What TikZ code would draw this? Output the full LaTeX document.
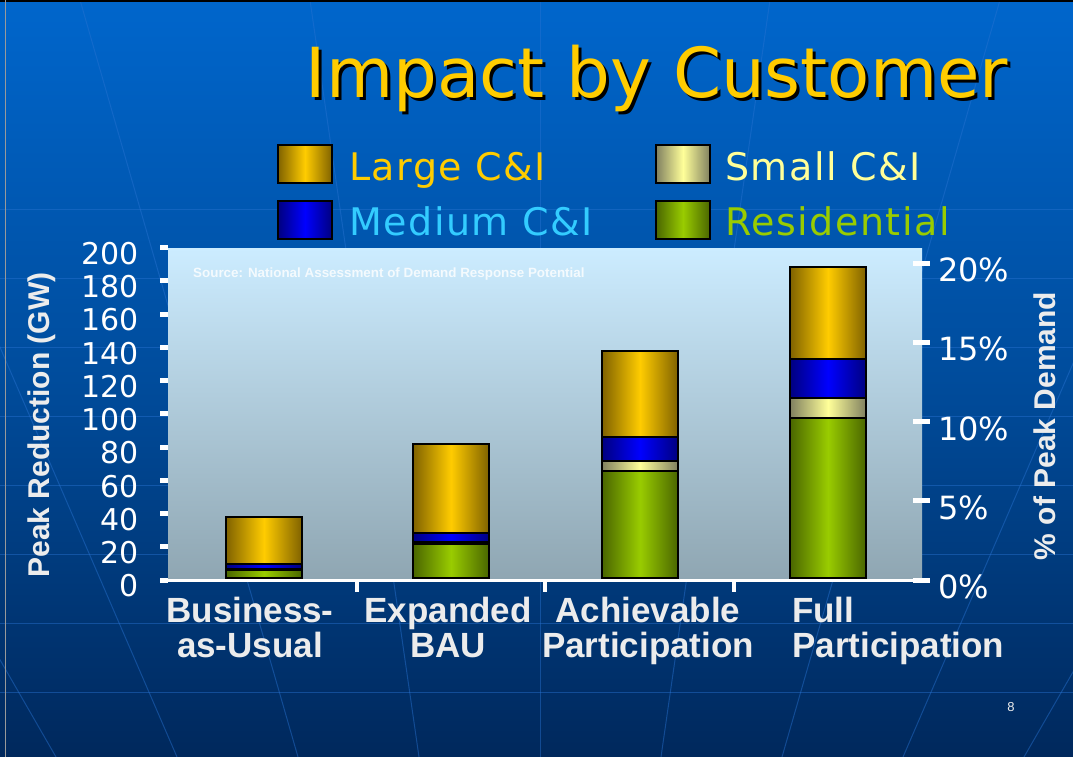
\documentclass[tikz,border=0pt]{standalone}
\usepackage{fontspec}
\setmainfont{DejaVu Sans}
\newfontfamily\arialfont{Liberation Sans}
\newfontfamily\legendfont[LetterSpace=4]{DejaVu Sans}
\usetikzlibrary{positioning}

\definecolor{slidetop}{RGB}{0,102,204}
\definecolor{slidemid}{RGB}{0,76,156}
\definecolor{slidebot}{RGB}{0,40,92}
\definecolor{plottop}{RGB}{204,236,255}
\definecolor{plotbot}{RGB}{143,166,178}
\definecolor{largeci}{RGB}{255,204,0}
\definecolor{largedark}{RGB}{128,98,0}
\definecolor{mediumci}{RGB}{0,0,255}
\definecolor{mediumdark}{RGB}{0,0,128}
\definecolor{smallci}{RGB}{255,255,153}
\definecolor{smalldark}{RGB}{128,128,96}
\definecolor{resid}{RGB}{153,204,0}
\definecolor{residdark}{RGB}{74,102,0}
\definecolor{medtext}{RGB}{51,204,255}
\definecolor{axistext}{RGB}{236,236,236}
\definecolor{gridline}{RGB}{40,115,210}

\tikzset{
    %Define styles for bar segments
    largebar/.style={
           draw=black,
           line width=1.5pt,
           left color=largedark, right color=largedark, middle color=largeci},
    mediumbar/.style={
           draw=black,
           line width=1.5pt,
           left color=mediumdark, right color=mediumdark, middle color=mediumci},
    smallbar/.style={
           draw=black,
           line width=1.5pt,
           left color=smalldark, right color=smalldark, middle color=smallci},
    residbar/.style={
           draw=black,
           line width=1.5pt,
           left color=residdark, right color=residdark, middle color=resid},
    % Define style for legend
    legbox/.style={
           rectangle,
           minimum width=54pt,
           minimum height=38pt,
           inner sep=0pt,
           line width=2pt},
    legtext/.style={
           inner sep=0pt,
           font=\legendfont\fontsize{38}{40}\selectfont},
    % axes
    ytick/.style={white, line width=5pt},
    xaxis/.style={white, line width=3pt},
    ticklabel/.style={
           inner sep=0pt,
           text=white,
           font=\fontsize{30}{32}\selectfont},
    pctlabel/.style={
           inner sep=0pt,
           text=white,
           font=\fontsize{32}{34}\selectfont},
    axistitle/.style={
           inner sep=0pt,
           text=axistext,
           font=\arialfont\bfseries\fontsize{30}{32}\selectfont},
    catlabel/.style={
           anchor=north,
           align=center,
           inner sep=0pt,
           text=axistext,
           font=\arialfont\bfseries\fontsize{35}{35}\selectfont},
    titletext/.style={
           anchor=base,
           inner sep=0pt,
           font=\fontsize{69}{72}\selectfont}
}

\begin{document}
\begin{tikzpicture}[x=1pt, y=-1pt]
  \useasboundingbox (0,0) rectangle (1073,757);

  % slide background
  \shade[top color=slidetop, bottom color=slidebot, middle color=slidemid]
    (0,0) rectangle (1073,757);
  \begin{scope}
    \clip (0,0) rectangle (1073,757);
    \foreach \yl in {209,278,347,416,485,554,623,692}
      \draw[gridline, opacity=0.45, line width=1pt] (0,\yl) -- (1073,\yl);
    \foreach \j in {-5,...,5}
      \draw[gridline, opacity=0.45, line width=1pt] ({540+\j*230},0) -- ({540+\j*121},757);
  \end{scope}
  \draw[black, line width=2pt] (0,1) -- (1073,1);
  \draw[black!40, line width=1pt] (5,0) -- (5,757);

  % title
  \node[titletext, text=black] (titleshadow) at (660,101) {Impact by Customer};
  \node[titletext, text=largeci] (title) at (657,98) {Impact by Customer};

  % legend
  \node[legbox, largebar, line width=2pt] (largebox) at (305,164) {};
  \node[legbox, mediumbar, line width=2pt] (mediumbox) at (305,220) {};
  \node[legbox, smallbar, line width=2pt] (smallbox) at (683,164) {};
  \node[legbox, residbar, line width=2pt] (residbox) at (683,220) {};
  \node[legtext, text=largeci, right=16pt of largebox.south east, anchor=base west, yshift=4pt] (largetext) {Large C\&I};
  \node[legtext, text=medtext, right=16pt of mediumbox.south east, anchor=base west, yshift=5pt] (mediumtext) {Medium C\&I};
  \node[legtext, text=smallci, right=14pt of smallbox.south east, anchor=base west, yshift=4pt] (smalltext) {Small C\&I};
  \node[legtext, text=resid, right=14pt of residbox.south east, anchor=base west, yshift=5pt] (residtext) {Residential};

  % plot area
  \shade[top color=plottop, bottom color=plotbot] (168,248) rectangle (922,579);
  \node[anchor=west, inner sep=0pt, text=white, text opacity=0.8,
        font=\arialfont\bfseries\fontsize{13.4}{15}\selectfont] (source) at (193,274)
    {Source: National Assessment of Demand Response Potential};

  % stacked bars: left edge / residential top / small top / medium top / large top
  \foreach \xl/\rt/\st/\mt/\lt in {226/570/569/564/517, 413/544/542/533/444,
                                   602/471/461/437/351, 790/418/398/359/267}{
    \draw[residbar] (\xl,578) rectangle ({\xl+76},\rt);
    \draw[smallbar] (\xl,\rt) rectangle ({\xl+76},\st);
    \draw[mediumbar] (\xl,\st) rectangle ({\xl+76},\mt);
    \draw[largebar] (\xl,\mt) rectangle ({\xl+76},\lt);
  }

  % axes
  \draw[xaxis] (168,580.5) -- (922,580.5);
  \foreach \xt in {357,545,734}
    \draw[white, line width=4pt] (\xt,580) -- (\xt,592);
  \foreach \v in {0,20,...,200}{
    \draw[ytick] (160,{580-\v*1.6625}) -- (168,{580-\v*1.6625});
    \node[ticklabel, anchor=east] (ylab\v) at (139,{586-\v*1.6625}) {\v};
  }
  \foreach \p in {0,5,...,20}{
    \draw[ytick] (913,{580-\p*15.85}) -- (930,{580-\p*15.85});
    \node[pctlabel, anchor=west] (plab\p) at (938,{587-\p*15.85}) {\p\%};
  }
  \node[axistitle, rotate=90] (lefttitle) at (42,425) {Peak Reduction (GW)};
  \node[axistitle, rotate=90] (righttitle) at (1045,426) {\% of Peak Demand};

  % category labels
  \node[catlabel] (bau) at (250,597) {Business-\\as-Usual};
  \node[catlabel] (expbau) at (448,597) {Expanded\\BAU};
  \node[catlabel] (achieve) at (648,597) {Achievable\\Participation};
  \node[catlabel, anchor=north west, align=left] (full) at (792,597) {Full\\Participation};

  \node[inner sep=0pt, text=axistext, font=\arialfont\fontsize{13}{15}\selectfont] (pagenum) at (1011,707) {8};
\end{tikzpicture}
\end{document}
